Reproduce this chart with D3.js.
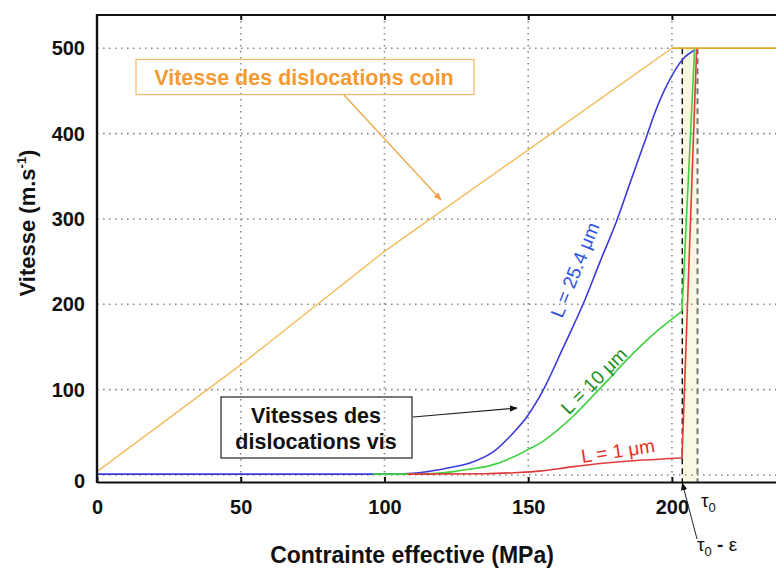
<!DOCTYPE html>
<html><head><meta charset="utf-8">
<script src="https://cdn.jsdelivr.net/npm/d3@7"></script>
<style>
html,body{margin:0;padding:0;background:#fff;}
svg{display:block;font-family:"Liberation Sans",Arial,sans-serif;}
</style></head>
<body><svg id="chart" width="776" height="569"></svg>
<script>
// ---- data ----
const xTicks = [0, 50, 100, 150, 200];
const yTicks = [0, 100, 200, 300, 400, 500];
const edgeStress = [0, 50, 100, 158, 200, 236.2];
const edgeSpeed  = [4, 129, 262, 400, 500, 500];
const screw25Stress = [0, 50, 100, 110, 115, 121.6, 129.7, 137.8, 144.7, 149.5, 155.3, 162, 169.7, 175, 180.8, 185.4, 191, 194.7, 200.5, 204, 208];
const screw25Speed  = [1, 1, 1, 2, 4, 8, 14, 27, 49, 68, 100, 148, 205, 250, 298, 342, 395, 430, 471, 488, 498];
const screw10Stress = [96, 110, 118, 124, 130, 136.7, 144.8, 150, 154, 160, 166, 172, 178, 184, 190, 196, 200.5, 203.5, 207.9];
const screw10Speed  = [1, 1, 2, 4, 7, 11, 21, 30, 37, 52, 70, 91, 112, 134, 154, 172, 184, 192, 500];
const screw1Stress = [108, 135, 145, 154, 165, 177, 190, 203.5, 208.6];
const screw1Speed  = [1, 1.5, 2.7, 4.5, 9.5, 14, 17.5, 20, 500];
const tau0Eps = 203.6, tau0 = 208.9;

const svg = d3.select("#chart");
const x = d3.scaleLinear().domain([0, 236.2]).range([97, 776]);
const y = d3.scaleLinear().domain([-8.2, 539]).range([482, 15]);
const X0 = x.range()[0], X1 = x.range()[1], Y0 = y.range()[0], Y1 = y.range()[1];
const FONT = "'Liberation Sans',Arial,sans-serif";

const defs = svg.append("defs");
function marker(id, color){
  defs.append("marker").attr("id", id).attr("viewBox","0 0 10 10").attr("refX",9).attr("refY",5)
    .attr("markerWidth",8).attr("markerHeight",8).attr("orient","auto-start-reverse")
    .attr("markerUnits","userSpaceOnUse")
    .append("path").attr("d","M0,1 L10,5 L0,9 z").attr("fill",color);
}
marker("arrK","#111"); marker("arrO","#f0a040");

// tau band
svg.append("rect").attr("x", x(tau0Eps)).attr("width", x(tau0)-x(tau0Eps))
  .attr("y", y(500)).attr("height", Y0 - y(500)).attr("fill","#fbf8e2");

// gridlines
svg.append("g").selectAll("line").data(yTicks).join("line")
  .attr("x1", X0).attr("x2", X1).attr("y1", d=>y(d)).attr("y2", d=>y(d))
  .attr("stroke","#8a8a8a").attr("stroke-width",1.6).attr("stroke-dasharray","1.6,4.4");
svg.append("g").selectAll("line").data(xTicks.filter(d=>d>0)).join("line")
  .attr("x1", d=>x(d)).attr("x2", d=>x(d)).attr("y1", Y1).attr("y2", Y0)
  .attr("stroke","#8a8a8a").attr("stroke-width",1.6).attr("stroke-dasharray","1.6,4.4");

// tau lines
svg.append("line").attr("x1",x(tau0Eps)).attr("x2",x(tau0Eps)).attr("y1",y(500)).attr("y2",Y0)
  .attr("stroke","#111").attr("stroke-width",1.4).attr("stroke-dasharray","6,4");
svg.append("line").attr("x1",x(tau0)).attr("x2",x(tau0)).attr("y1",y(500)).attr("y2",Y0)
  .attr("stroke","#777").attr("stroke-width",2).attr("stroke-dasharray","6,4");

// series
const smooth = d3.line().x(d=>x(d[0])).y(d=>y(d[1])).curve(d3.curveMonotoneX);
const straight = d3.line().x(d=>x(d[0])).y(d=>y(d[1]));
function series(xs, ys, color, w, jumpLast){
  const pts = xs.map((v,i)=>[v, ys[i]]);
  const body = jumpLast ? pts.slice(0, -1) : pts;
  svg.append("path").datum(body).attr("d", smooth)
    .attr("fill","none").attr("stroke",color).attr("stroke-width",w).attr("stroke-linejoin","round");
  if (jumpLast) {
    svg.append("path").datum(pts.slice(-2)).attr("d", straight)
      .attr("fill","none").attr("stroke",color).attr("stroke-width",w);
  }
}
series(screw25Stress, screw25Speed, "#3b3bdc", 1.6, false);
series(screw10Stress, screw10Speed, "#3fd23f", 1.6, true);
series(screw1Stress, screw1Speed, "#e23a3a", 1.6, true);
svg.append("path").datum(edgeStress.map((v,i)=>[v, edgeSpeed[i]])).attr("d", straight)
  .attr("fill","none").attr("stroke","#f2bd5c").attr("stroke-width",1.4);
svg.append("line").attr("x1", x(200)).attr("x2", X1).attr("y1", y(500)).attr("y2", y(500))
  .attr("stroke","#e0a628").attr("stroke-width",1.6);

// frame
svg.append("line").attr("x1",X0).attr("x2",X1).attr("y1",Y1).attr("y2",Y1).attr("stroke","#111").attr("stroke-width",2.2);
svg.append("line").attr("x1",X0).attr("x2",X0).attr("y1",Y1-1).attr("y2",Y0+1).attr("stroke","#111").attr("stroke-width",2.4);

// axes
const xAxis = svg.append("g").attr("transform",`translate(0,${Y0})`)
  .call(d3.axisBottom(x).tickValues(xTicks).tickSizeInner(-5).tickSizeOuter(0).tickPadding(18));
xAxis.select(".domain").attr("stroke","#111").attr("stroke-width",2.2);
xAxis.selectAll(".tick line").attr("stroke","#111").attr("stroke-width",2);
xAxis.selectAll(".tick text").attr("font-size",20).attr("font-weight","bold").attr("fill","#111")
  .attr("font-family",FONT);

const topTicks = svg.append("g").attr("transform",`translate(0,${Y1})`)
  .call(d3.axisTop(x).tickValues(xTicks.filter(d=>d>0)).tickSizeInner(-5).tickSizeOuter(0).tickFormat(""));
topTicks.select(".domain").remove();
topTicks.selectAll(".tick line").attr("stroke","#111").attr("stroke-width",2);

const yAxis = svg.append("g").attr("transform",`translate(${X0},0)`)
  .call(d3.axisLeft(y).tickValues(yTicks).tickSize(0).tickPadding(12));
yAxis.select(".domain").remove();
yAxis.selectAll(".tick text").attr("font-size",20).attr("font-weight","bold").attr("fill","#111")
  .attr("font-family",FONT)
  .attr("transform", d => d === 0 ? "translate(0,6)" : null);

// axis titles
svg.append("text").attr("x",412).attr("y",563).attr("text-anchor","middle")
  .attr("font-size",23).attr("font-weight","bold").attr("fill","#111").text("Contrainte effective (MPa)");
const yt = svg.append("text").attr("transform","translate(35,223) rotate(-90)").attr("text-anchor","middle")
  .attr("font-size",22).attr("font-weight","bold").attr("fill","#111");
yt.append("tspan").text("Vitesse (m.s");
yt.append("tspan").attr("dy",-9).attr("font-size",13).text("-1");
yt.append("tspan").attr("dy",9).text(")");

// edge annotation
svg.append("rect").attr("x",136).attr("y",59.5).attr("width",338).attr("height",35)
  .attr("fill","none").attr("stroke","#f3b86a").attr("stroke-width",1.2);
svg.append("text").attr("x",304).attr("y",84.5).attr("text-anchor","middle").attr("font-size",21.5)
  .attr("font-weight","bold").attr("fill","#f59a30").text("Vitesse des dislocations coin");
svg.append("line").attr("x1",344).attr("y1",95).attr("x2",441).attr("y2",200)
  .attr("stroke","#eda640").attr("stroke-width",1.2).attr("marker-end","url(#arrO)");

// screw annotation
svg.append("rect").attr("x",221).attr("y",397).attr("width",191).attr("height",61)
  .attr("fill","none").attr("stroke","#222").attr("stroke-width",1.2);
svg.append("text").attr("x",316).attr("y",423).attr("text-anchor","middle").attr("font-size",21.5)
  .attr("font-weight","bold").attr("fill","#111").text("Vitesses des");
svg.append("text").attr("x",316).attr("y",449).attr("text-anchor","middle").attr("font-size",21.5)
  .attr("font-weight","bold").attr("fill","#111").text("dislocations vis");
svg.append("line").attr("x1",413).attr("y1",417).attr("x2",517).attr("y2",408)
  .attr("stroke","#222").attr("stroke-width",1.2).attr("marker-end","url(#arrK)");

// curve labels
function rotLabel(cx, cy, ang, txt, color){
  svg.append("text").attr("transform",`translate(${cx},${cy}) rotate(${ang})`)
    .attr("text-anchor","middle").attr("dominant-baseline","central")
    .attr("font-size",19).attr("fill",color).text(txt);
}
rotLabel(575, 270, -68, "L = 25.4 μm", "#2f55e0");
rotLabel(594, 381, -45, "L = 10 μm", "#1b8f1b");
rotLabel(618, 451, -8.6, "L = 1 μm", "#e8301c");

// tau labels
const t1 = svg.append("text").attr("x",701).attr("y",507).attr("font-size",19).attr("fill","#111");
t1.append("tspan").text("τ");
t1.append("tspan").attr("dy",5).attr("font-size",13).text("0");
const t2 = svg.append("text").attr("x",697).attr("y",551).attr("font-size",19).attr("fill","#111");
t2.append("tspan").text("τ");
t2.append("tspan").attr("dy",5).attr("font-size",13).text("0");
t2.append("tspan").attr("dy",-5).attr("font-size",19).attr("font-weight","bold").text(" - ");
t2.append("tspan").attr("font-size",19).text("ε");
svg.append("line").attr("x1",697).attr("y1",539).attr("x2",x(tau0Eps)).attr("y2",Y0+1)
  .attr("stroke","#222").attr("stroke-width",1).attr("marker-end","url(#arrK)");
</script></body></html>
